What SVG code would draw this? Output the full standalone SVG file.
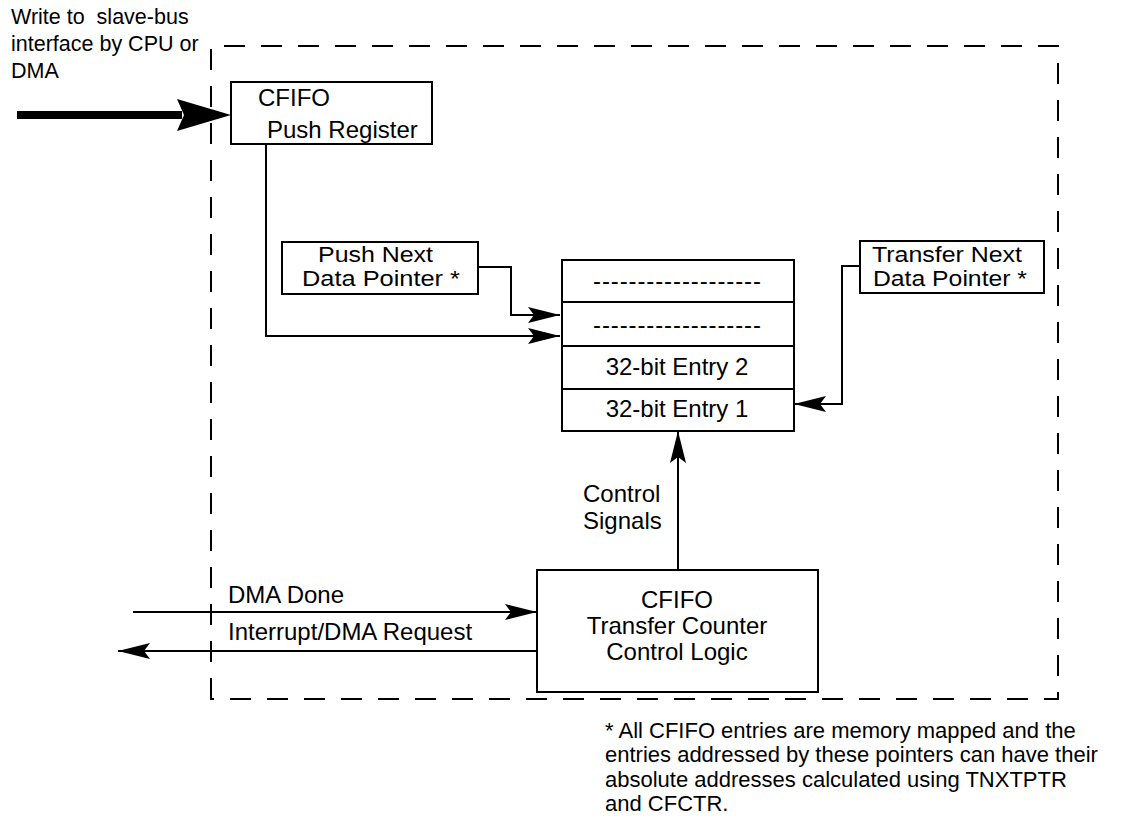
<svg xmlns="http://www.w3.org/2000/svg" width="1142" height="831" viewBox="0 0 1142 831">
<style>
.box{fill:#fff;stroke:#000;stroke-width:2}
.ln{fill:none;stroke:#000;stroke-width:2}
.dash{fill:none;stroke:#000;stroke-width:2;stroke-dasharray:21 16}
.t{font-family:"Liberation Sans",Arial,Helvetica,sans-serif;font-size:24px;fill:#000}
.p{font-family:"Liberation Sans",Arial,Helvetica,sans-serif;font-size:22px;fill:#000}
.s{font-family:"Liberation Sans",Arial,Helvetica,sans-serif;font-size:21.5px;fill:#000;white-space:pre}
.f{font-family:"Liberation Sans",Arial,Helvetica,sans-serif;font-size:22px;fill:#000}
.c{text-anchor:middle}
</style>
<defs>
<marker id="ah" markerUnits="userSpaceOnUse" viewBox="0 0 34 20" markerWidth="34" markerHeight="20" refX="32" refY="10" orient="auto">
<path d="M0,2 L32,10 L0,18 L6,10 Z" fill="#000"/>
</marker>
</defs>
<g id="boundary">
<path class="dash" d="M211,699 V46 H1058 V699 Z"/>
</g>
<g id="title-text">
<text class="s" x="11" y="24" xml:space="preserve">Write to  slave-bus</text>
<text class="s" x="11" y="51">interface by CPU or</text>
<text class="s" x="11" y="78">DMA</text>
</g>
<g id="connectors">
<line x1="17" y1="115" x2="182" y2="115" stroke="#000" stroke-width="8"/>
<polygon points="177,99 231,115 177,131 184,115" fill="#000"/>
<path class="ln" d="M266,144 V336 H560" marker-end="url(#ah)"/>
<path class="ln" d="M478,267 H511 V315 H560" marker-end="url(#ah)"/>
<path class="ln" d="M860,266 H842 V404 H794" marker-end="url(#ah)"/>
<path class="ln" d="M678,570 V431" marker-end="url(#ah)"/>
<path class="ln" d="M133,612 H537" marker-end="url(#ah)"/>
<path class="ln" d="M537,651 H118" marker-end="url(#ah)"/>
</g>
<g id="push-register">
<rect class="box" x="231" y="82" width="201" height="62"/>
<text class="t" x="258" y="106">CFIFO</text>
<text class="t" x="267" y="138">Push Register</text>
</g>
<g id="push-next-pointer">
<rect class="box" x="282" y="242" width="196" height="52"/>
<text class="p" x="318" y="261.5" textLength="115" lengthAdjust="spacingAndGlyphs">Push Next</text>
<text class="p" x="302" y="286" textLength="158" lengthAdjust="spacingAndGlyphs">Data Pointer *</text>
</g>
<g id="transfer-next-pointer">
<rect class="box" x="860" y="241" width="184" height="52"/>
<text class="p" x="872" y="261.5" textLength="150" lengthAdjust="spacingAndGlyphs">Transfer Next</text>
<text class="p" x="873" y="286" textLength="154" lengthAdjust="spacingAndGlyphs">Data Pointer *</text>
</g>
<g id="cfifo-entries">
<rect class="box" x="562" y="260" width="232" height="171"/>
<line class="ln" x1="562" y1="302" x2="794" y2="302"/>
<line class="ln" x1="562" y1="346" x2="794" y2="346"/>
<line class="ln" x1="562" y1="389" x2="794" y2="389"/>
<text class="t c" x="677" y="289" textLength="168" lengthAdjust="spacing">-------------------</text>
<text class="t c" x="677" y="333" textLength="168" lengthAdjust="spacing">-------------------</text>
<text class="t c" x="677" y="375">32-bit Entry 2</text>
<text class="t c" x="677" y="417">32-bit Entry 1</text>
</g>
<g id="control-signals-label">
<text class="t" x="583" y="502">Control</text>
<text class="t" x="583" y="529">Signals</text>
</g>
<g id="control-logic">
<rect class="box" x="537" y="570" width="281" height="122"/>
<text class="t c" x="677" y="608">CFIFO</text>
<text class="t c" x="677" y="634">Transfer Counter</text>
<text class="t c" x="677" y="660">Control Logic</text>
</g>
<g id="signal-labels">
<text class="t" x="228" y="603">DMA Done</text>
<text class="t" x="228" y="640">Interrupt/DMA Request</text>
</g>
<g id="footnote">
<text class="f" x="605" y="738">* All CFIFO entries are memory mapped and the</text>
<text class="f" x="605" y="762">entries addressed by these pointers can have their</text>
<text class="f" x="605" y="787">absolute addresses calculated using TNXTPTR</text>
<text class="f" x="605" y="811">and CFCTR.</text>
</g>
</svg>
